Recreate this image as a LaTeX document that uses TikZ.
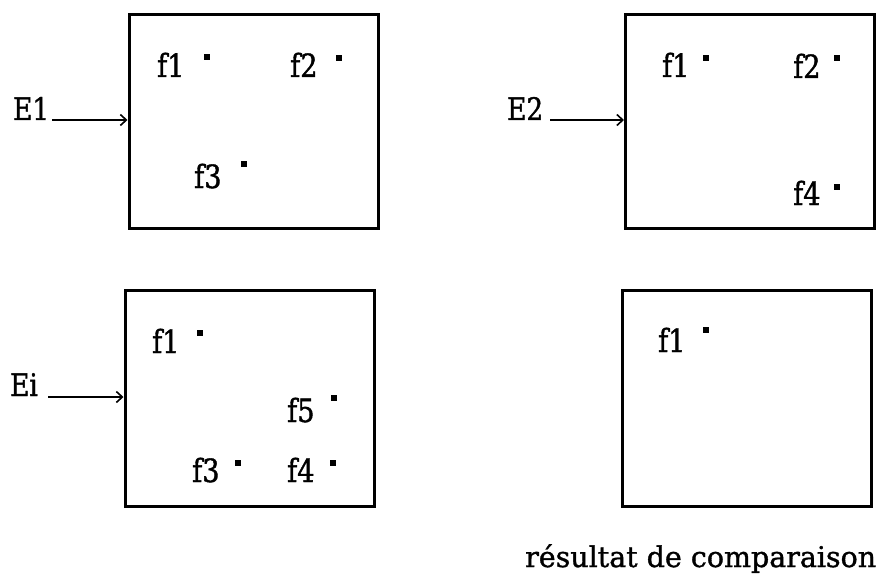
\documentclass[tikz,border=0pt]{standalone}
\usepackage{fontspec}
\setmainfont{DejaVu Serif}
\newfontfamily\lblfamily[FakeStretch=0.85,FakeBold=1.2]{DejaVu Serif}
\newfontfamily\capfamily[FakeBold=1.2]{DejaVu Serif}
\usetikzlibrary{arrows.meta}
\begin{document}
\begin{tikzpicture}[x=1pt,y=-1pt,
  frame/.style={draw,line width=3pt,minimum width=249pt,minimum height=213pt,inner sep=0pt},
  lbl/.style={inner sep=0pt,anchor=base west,font=\lblfamily\fontsize{32}{32}\selectfont},
  elbl/.style={inner sep=0pt,anchor=base west,font=\lblfamily\fontsize{31}{31}\selectfont},
  pt/.style={fill,inner sep=0pt,minimum size=6pt},
  inarrow/.style={line width=1.6pt,-{Straight Barb[length=6pt,width=11pt,line width=1.6pt]}}]
\useasboundingbox (0,0) rectangle (881,575);
% boxes
\node[frame] (b1) at (253.5,121.5) {};
\node[frame] (b2) at (750,121.5) {};
\node[frame,minimum height=216pt] (b3) at (249.5,398) {};
\node[frame,minimum height=216pt] (b4) at (746.5,398.5) {};
% inputs
\node[elbl] (E1) at (13,120) {E1};
\coordinate (a1) at (52,120);
\draw[inarrow] (a1) -- (a1 -| b1.west);
\node[elbl] (E2) at (507,120) {E2};
\coordinate (a2) at (550,120);
\draw[inarrow] (a2) -- (a2 -| b2.west);
\node[elbl] (Ei) at (10,396) {Ei};
\coordinate (a3) at (48,397);
\draw[inarrow] (a3) -- (a3 -| b3.west);
% box 1
\node[lbl] (b1f1) at (157,77) {f1}; \node[pt] (b1d1) at (207,57) {};
\node[lbl] (b1f2) at (290,77) {f2}; \node[pt] (b1d2) at (339,58) {};
\node[lbl] (b1f3) at (194,188) {f3}; \node[pt] (b1d3) at (244,164) {};
% box 2
\node[lbl] (b2f1) at (662,77) {f1}; \node[pt] (b2d1) at (706,58) {};
\node[lbl] (b2f2) at (793,78) {f2}; \node[pt] (b2d2) at (837,58) {};
\node[lbl] (b2f4) at (793,205) {f4}; \node[pt] (b2d4) at (837,187) {};
% box 3
\node[lbl] (b3f1) at (152,353) {f1}; \node[pt] (b3d1) at (200,333) {};
\node[lbl] (b3f5) at (287,422) {f5}; \node[pt] (b3d5) at (334,398) {};
\node[lbl] (b3f3) at (192,482) {f3}; \node[pt] (b3d3) at (238,463) {};
\node[lbl] (b3f4) at (287,482) {f4}; \node[pt] (b3d4) at (333,463) {};
% box 4
\node[lbl] (b4f1) at (658,352) {f1}; \node[pt] (b4d1) at (706,330) {};
% caption
\node[inner sep=0pt,anchor=base west,font=\capfamily\fontsize{28.5}{28.5}\selectfont] (cap) at (525,567) {résultat de comparaison};
\end{tikzpicture}
\end{document}
